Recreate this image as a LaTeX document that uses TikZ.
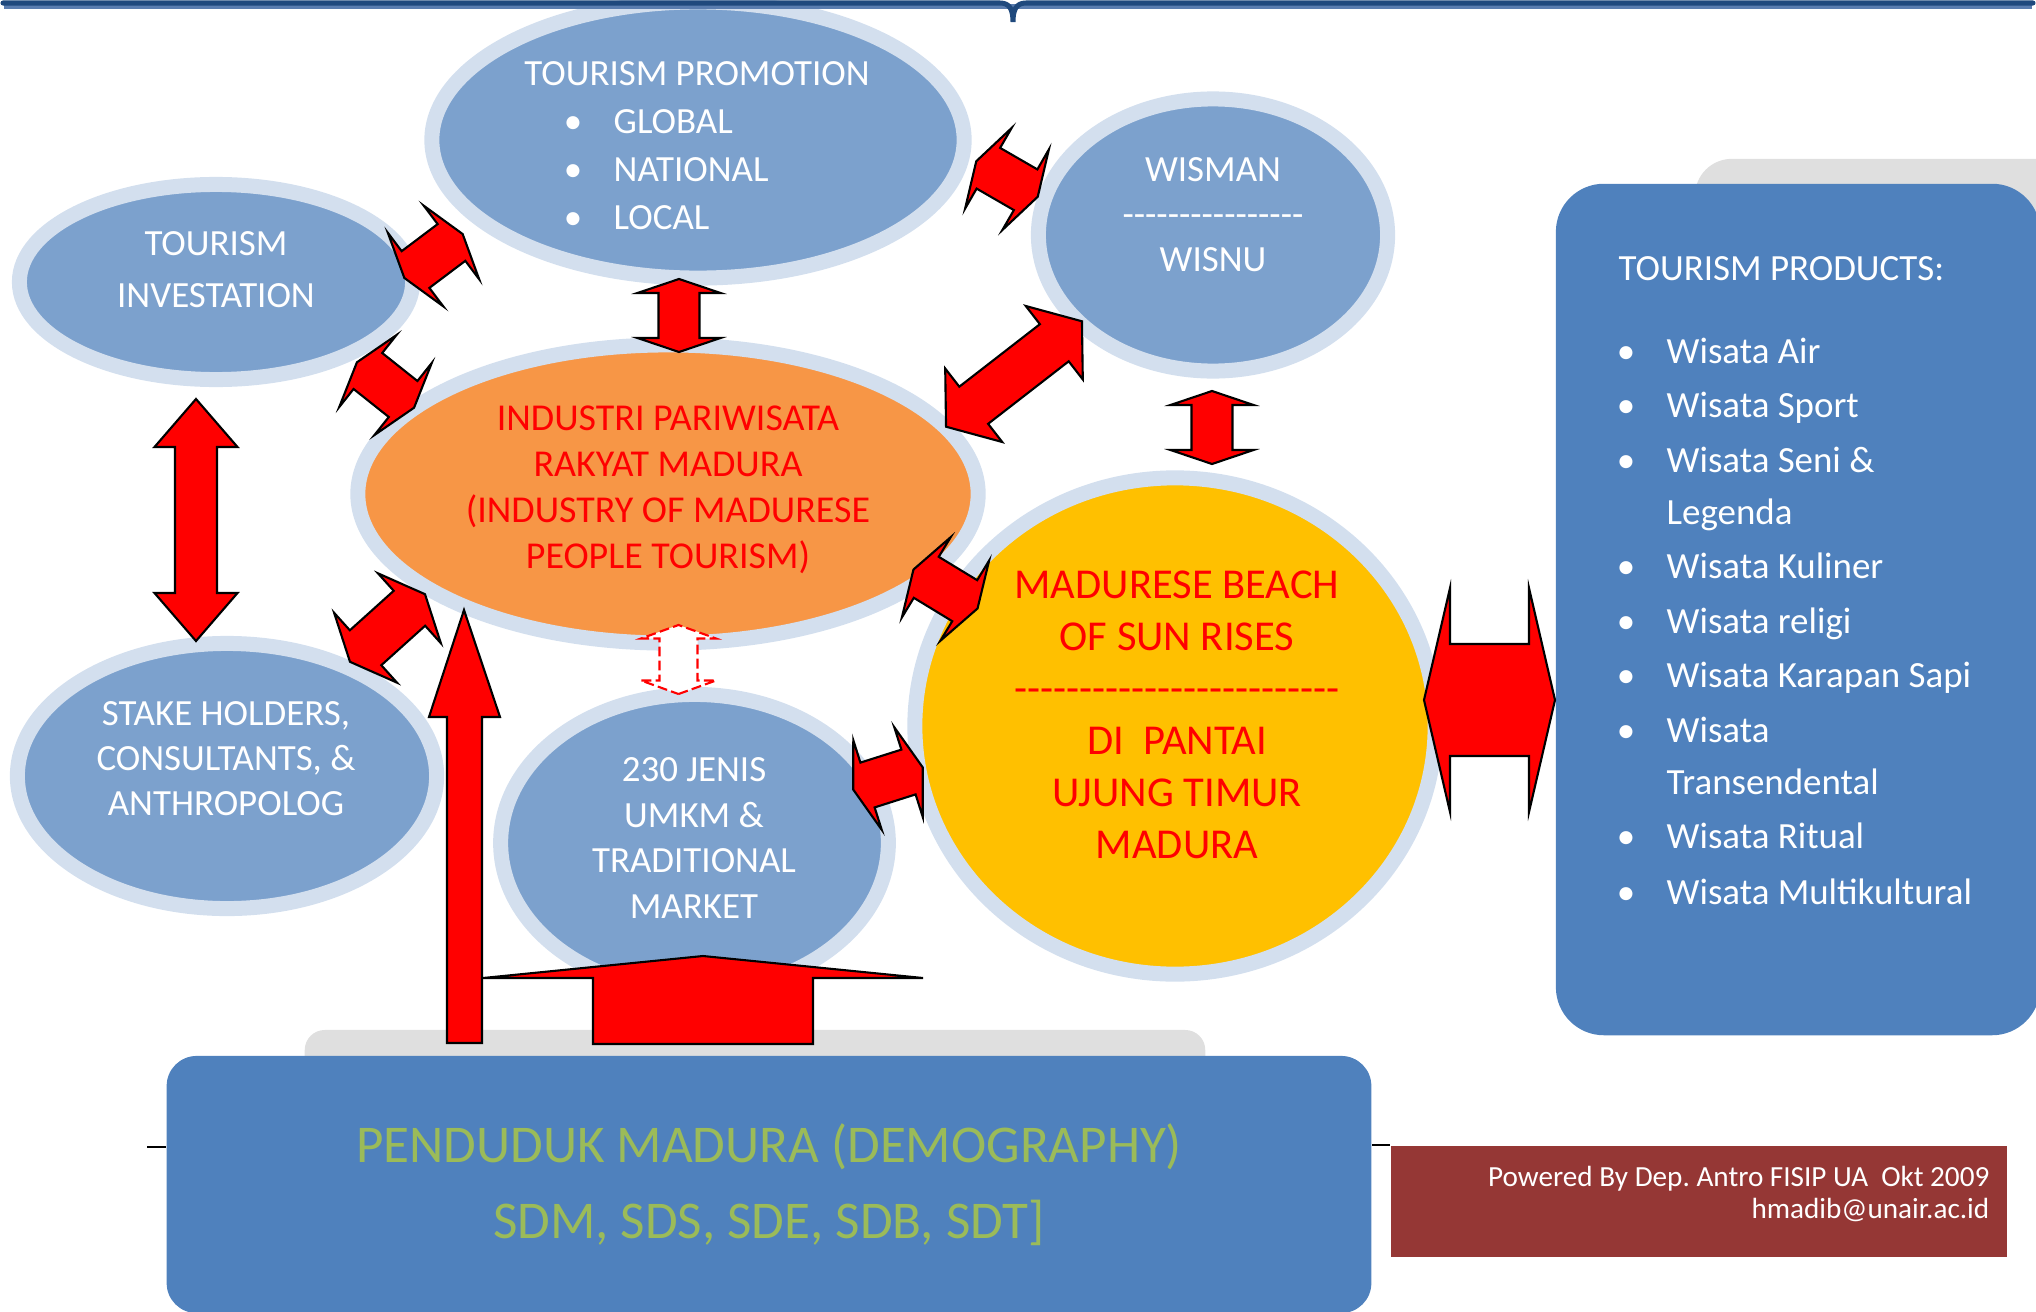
\documentclass[tikz,border=0pt]{standalone}
\usepackage{fontspec}
\setmainfont{Carlito}
\usepackage{tikz}
\usetikzlibrary{shapes.geometric, positioning}

\definecolor{bubblefill}{RGB}{124,161,205}
\definecolor{bubblering}{RGB}{211,223,238}
\definecolor{industrifill}{RGB}{247,150,70}
\definecolor{beachfill}{RGB}{255,192,0}
\definecolor{boxblue}{RGB}{79,129,189}
\definecolor{shadowgray}{RGB}{223,223,223}
\definecolor{creditred}{RGB}{149,55,53}
\definecolor{pendgreen}{RGB}{155,187,89}
\definecolor{barblue}{RGB}{31,73,125}
\definecolor{barlight}{RGB}{90,125,175}

% a row of hyphens that never turns into dashes
\newcommand{\dashline}[1]{\foreach \k in {1,...,#1}{-\kern0pt}}

\begin{document}
\frenchspacing
\begin{tikzpicture}[
        x=0.01cm, y=-0.01cm,
        % the pale rings round every bubble
        bubble/.style={ellipse, draw=bubblering, line width=0.15cm, fill=bubblefill, inner sep=0pt},
        txt/.style={align=center, inner sep=0pt, text=white},
        small/.style={font=\fontsize{10.5}{13}\selectfont},
        listtxt/.style={txt, small, anchor=base west},
        roundbox/.style={rounded corners=#1, inner sep=0pt},
        redarrow/.style={fill=red, draw=black, line width=0.6pt, line join=miter},
        dasharrow/.style={fill=white, draw=red, line width=0.6pt, dash pattern=on 2.8pt off 1.2pt},
        stub/.style={draw=black, line width=0.6pt},
        % block arrow with two heads: length, head width, shaft width, head length, look
        pics/dblarrow/.style n args={5}{code={
            \path[#5] (-#1/2,0) -- (-#1/2+#4,#2/2) -- (-#1/2+#4,#3/2) -- (#1/2-#4,#3/2)
                -- (#1/2-#4,#2/2) -- (#1/2,0) -- (#1/2-#4,-#2/2) -- (#1/2-#4,-#3/2)
                -- (-#1/2+#4,-#3/2) -- (-#1/2+#4,-#2/2) -- cycle;
        }}
    ]
    \useasboundingbox (0,0) rectangle (2036,1312);

    % boxes and their grey shadows
    \node[roundbox=0.37cm, fill=shadowgray, minimum width=3.9cm, minimum height=5.4cm] (panel-shadow) at (1890,429) {};
    \node[roundbox=0.48cm, fill=boxblue, minimum width=4.84cm, minimum height=8.51cm] (panel) at (1798,609.5) {};
    \node[roundbox=0.2cm, fill=shadowgray, minimum width=9cm, minimum height=0.7cm] (pend-shadow) at (755,1065) {};
    \node[roundbox=0.3cm, fill=boxblue, minimum width=12.04cm, minimum height=2.57cm,
        text=pendgreen, align=center, font=\fontsize{15.1}{21.6}\selectfont] (pend) at (769,1184.5)
        {PENDUDUK MADURA (DEMOGRAPHY)\\SDM, SDS, SDE, SDB, SDT]};
    \node[fill=creditred, inner sep=0pt, minimum width=6.16cm, minimum height=1.11cm] (credit) at (1699,1201.5) {};
    \node[txt, align=right, anchor=east, font=\fontsize{8.3}{9.1}\selectfont] (credit-txt) at (1990,1194)
        {Powered By Dep. Antro FISIP UA\ \ Okt 2009\\hmadib@unair.ac.id};

    \coordinate (pend-stub) at (147,1147);
    \draw[stub] (pend-stub) -- (pend-stub -| pend.west);
    \draw[stub] (pend.east |- credit.north) -- (credit.north west);

    % the bubbles
    \node[bubble, minimum width=5.32cm, minimum height=2.76cm] (promo) at (698,140) {};
    \node[bubble, minimum width=3.93cm, minimum height=1.95cm] (invest) at (216,282) {};
    \node[bubble, minimum width=3.49cm, minimum height=2.72cm] (wisman) at (1213,235) {};
    \node[bubble, fill=industrifill, minimum width=6.2cm, minimum height=2.98cm] (industri) at (668,494) {};
    \node[bubble, minimum width=4.19cm, minimum height=2.65cm] (stake) at (227,776) {};
    \node[bubble, minimum width=3.875cm, minimum height=2.97cm] (umkm) at (694.5,843) {};
    \node[bubble, fill=beachfill, minimum width=5.2cm, minimum height=4.96cm] (beach) at (1175,726) {};

    % texts of the bubbles
    \node[txt, small] (promo-title) at (697,74) {TOURISM PROMOTION};
    \foreach \y/\t in {121/GLOBAL, 169/NATIONAL, 217/LOCAL} {
        \node[txt, small, anchor=base] (promo-dot-\y) at (573,\y+12) {\textbullet};
        \node[listtxt] (promo-\y) at (613,\y+12) {\t};
    }
    \node[txt, font=\fontsize{10.5}{14.8}\selectfont] (invest-txt) at (216,270) {TOURISM\\INVESTATION};
    \node[txt, font=\fontsize{10.5}{12.8}\selectfont] (wisman-txt) at (1213,215) {WISMAN\\\dashline{16}\\WISNU};
    \node[txt, text=red, font=\fontsize{10.8}{13.1}\selectfont] (industri-txt) at (668,490)
        {INDUSTRI PARIWISATA\\RAKYAT MADURA\\(INDUSTRY OF MADURESE\\PEOPLE TOURISM)};
    \node[txt, font=\fontsize{10.5}{12.9}\selectfont] (stake-txt) at (226,758.5)
        {STAKE HOLDERS,\\CONSULTANTS, \&\\ANTHROPOLOG};
    \node[txt, font=\fontsize{10.5}{12.9}\selectfont] (umkm-txt) at (694,838)
        {230 JENIS\\UMKM \&\\TRADITIONAL\\MARKET};
    \node[txt, text=red, font=\fontsize{12.1}{14.8}\selectfont] (beach-txt) at (1177,715)
        {MADURESE BEACH\\OF SUN RISES\\\dashline{25}\\DI\ \ PANTAI\\UJUNG TIMUR\\MADURA};

    % list of products
    \node[listtxt] (panel-title) at (1618,280) {TOURISM PRODUCTS:};
    \foreach \y/\t in {351/Wisata Air, 405/Wisata Sport, 460/Wisata Seni \&, 566/Wisata Kuliner,
            621/Wisata religi, 675/Wisata Karapan Sapi, 730/Wisata, 836/Wisata Ritual,
            892/Wisata Multikultural} {
        \node[txt, small, anchor=base] (panel-dot-\y) at (1626,\y+12) {\textbullet};
        \node[listtxt] (panel-\y) at (1666,\y+12) {\t};
    }
    \node[listtxt] (panel-512) at (1666,524) {Legenda};
    \node[listtxt] (panel-782) at (1666,794) {Transendental};

    % double block arrows between the bubbles
    \pic[rotate=90] at (679,315.5) {dblarrow={73}{83}{41}{14}{redarrow}};
    \pic[rotate=90] at (1212,427.5) {dblarrow={73}{83}{41}{14}{redarrow}};
    \pic[rotate=90] at (196,520) {dblarrow={242}{83}{42}{48}{redarrow}};
    \pic at (1489.5,700) {dblarrow={131}{224}{112}{26}{redarrow}};
    \pic[rotate=37] at (433.5,256) {dblarrow={73}{92}{46}{14}{redarrow}};
    \pic[rotate=-38.5] at (385.5,385) {dblarrow={73}{92}{46}{14}{redarrow}};
    \pic[rotate=42] at (387.5,628) {dblarrow={101}{94}{47}{21}{redarrow}};
    \pic[rotate=-30] at (1007,179) {dblarrow={71}{93}{47}{14}{redarrow}};
    \pic[rotate=37.8] at (1014,374) {dblarrow={172}{93}{47}{35}{redarrow}};
    \pic[rotate=-31.3] at (945.5,589) {dblarrow={75}{94}{48}{15}{redarrow}};
    \pic[rotate=17.6] at (888,778.5) {dblarrow={73}{94}{47}{15}{redarrow}};
    \pic[rotate=90] at (678.5,659.5) {dblarrow={69}{75}{38}{13.5}{dasharrow}};

    % the two arrows rising from the population box
    \path[redarrow] (447,1043) -- (447,717) -- (429,717) -- (464,610) -- (500,717)
        -- (482,717) -- (482,1043) -- cycle;
    \path[redarrow] (593,1044) -- (593,978) -- (483,978) -- (703,956) -- (923,978)
        -- (813,978) -- (813,1044) -- cycle;

    % brace along the top
    \draw[barlight, line width=1.2pt] (4,6.5) -- (2032,6.5);
    \draw[barblue, line width=0.05cm, line cap=round] (3,3) -- (1000,3)
        .. controls (1010,3) and (1013,10) .. (1013,22)
        .. controls (1013,10) and (1016,3) .. (1026,3) -- (2033,3);
\end{tikzpicture}
\end{document}
